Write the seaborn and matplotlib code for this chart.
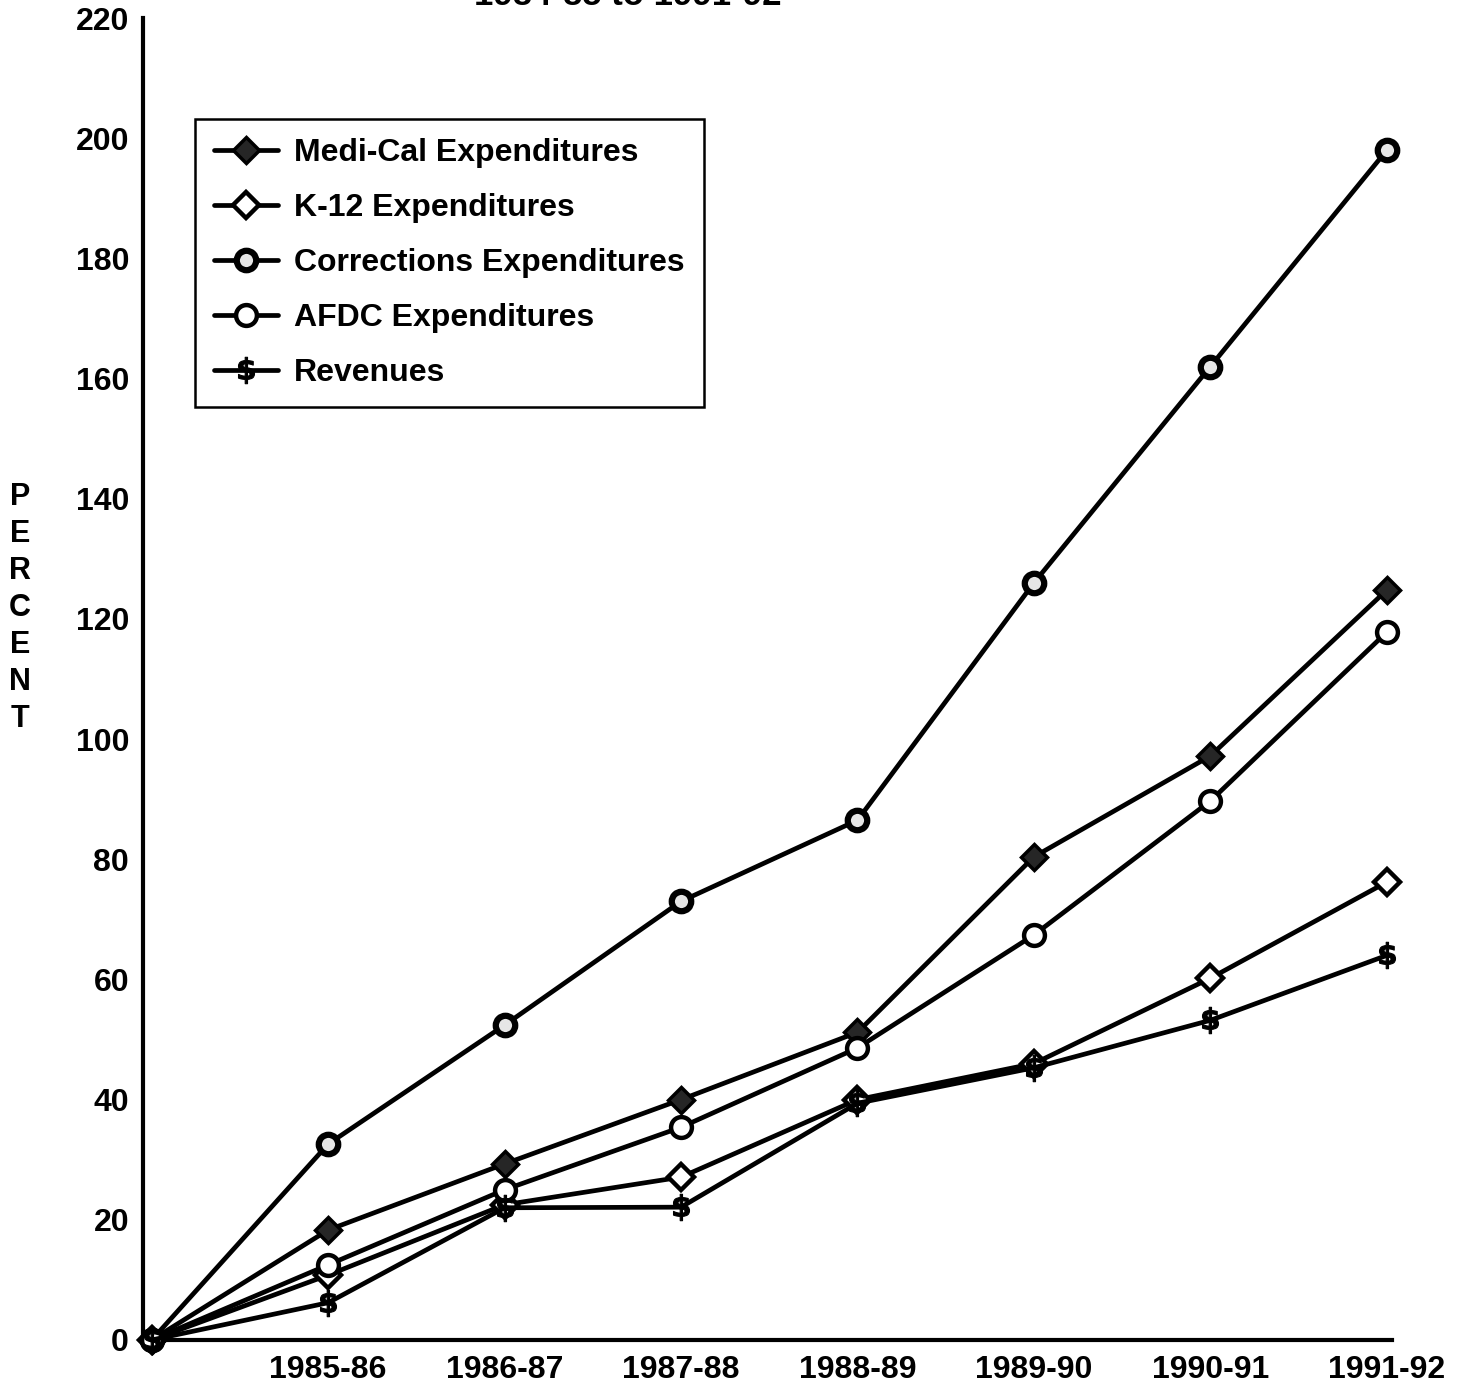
import matplotlib
matplotlib.use("Agg")
import matplotlib.pyplot as plt
import seaborn as sns
import pandas as pd

sns.set_theme(style="white")
plt.rcParams['font.family'] = ['Liberation Sans', 'DejaVu Sans']
plt.rcParams['font.weight'] = 'bold'
plt.rcParams['text.color'] = 'black'
plt.rcParams['xtick.color'] = 'black'
plt.rcParams['ytick.color'] = 'black'
plt.rcParams['axes.labelcolor'] = 'black'

years = ["1984-85", "1985-86", "1986-87", "1987-88", "1988-89", "1989-90", "1990-91", "1991-92"]
medi_cal = [0, 18.3, 29.3, 40.0, 51.2, 80.4, 97.2, 124.8]
k12 = [0, 10.8, 22.5, 27.1, 40.0, 46.0, 60.2, 76.2]
corrections = [0, 32.6, 52.4, 73.0, 86.5, 126.0, 162.0, 198.0]
afdc = [0, 12.5, 25.0, 35.4, 48.6, 67.4, 89.7, 117.8]
revenues = [0, 6.2, 22.0, 22.1, 39.4, 45.3, 53.2, 64.0]

series = [
    ("Medi-Cal Expenditures", medi_cal, dict(marker='D', markersize=13, markerfacecolor='#262626', markeredgecolor='black', markeredgewidth=2.5)),
    ("K-12 Expenditures", k12, dict(marker='D', markersize=13, markerfacecolor='white', markeredgecolor='black', markeredgewidth=3.2)),
    ("Corrections Expenditures", corrections, dict(marker='o', markersize=14, markerfacecolor='#e6e6e6', markeredgecolor='black', markeredgewidth=4.5)),
    ("AFDC Expenditures", afdc, dict(marker='o', markersize=15, markerfacecolor='white', markeredgecolor='black', markeredgewidth=3.2)),
    ("Revenues", revenues, dict(marker='$\\$$', markersize=19, markerfacecolor='black', markeredgecolor='black', markeredgewidth=0.8)),
]

fig = plt.figure(figsize=(14.72, 13.91), dpi=100)
ax = fig.add_axes([0.0971, 0.0367, 0.8486, 0.9503])

xs = list(range(len(years)))
for name, vals, kw in series:
    df = pd.DataFrame({"x": xs, "y": vals})
    sns.lineplot(data=df, x="x", y="y", ax=ax, color='black', linewidth=3.4,
                 label=name, clip_on=False, zorder=3, **kw)

ax.set_xlim(-0.05, 7.03)
ax.set_ylim(0, 220)
ax.set_yticks(range(0, 221, 20))
ax.set_yticklabels([str(v) for v in range(0, 221, 20)], fontsize=23, fontweight='bold', color='black')
ax.set_xticks(range(1, 8))
ax.set_xticklabels(years[1:], fontsize=23, fontweight='bold', color='black')
ax.tick_params(axis='y', direction='inout', length=14, width=2.5, pad=3, color='black')
ax.tick_params(axis='x', direction='out', length=7, width=2.5, pad=4, color='black')
ax.set_xlabel("")
ax.set_ylabel("")
for s in ['top', 'right']:
    ax.spines[s].set_visible(False)
for s in ['left', 'bottom']:
    ax.spines[s].set_linewidth(3)
    ax.spines[s].set_color('black')

leg = ax.legend(loc='upper left', bbox_to_anchor=(0.0416, 0.9235),
                frameon=True, fancybox=False, edgecolor='black', framealpha=1,
                handlelength=2.0, labelspacing=0.78, borderpad=0.6, handletextpad=0.5,
                borderaxespad=0, prop={'weight': 'bold', 'size': 23})
leg.get_frame().set_linewidth(1.8)
for t in leg.get_texts():
    t.set_color('black')

# Vertical stacked y-axis label
for i, ch in enumerate("PERCENT"):
    fig.text(0.0136, 1 - (497 + i * 37) / 1391, ch, fontsize=22, fontweight='bold',
             ha='center', va='center', color='black')

# Title (cut off at the top of the page, as in the source)
fig.text(0.4266, 0.9965, "1984-85 to 1991-92", fontsize=25, fontweight='bold',
         ha='center', va='baseline', color='black')

fig.savefig("out.png", dpi=100, facecolor='white')
